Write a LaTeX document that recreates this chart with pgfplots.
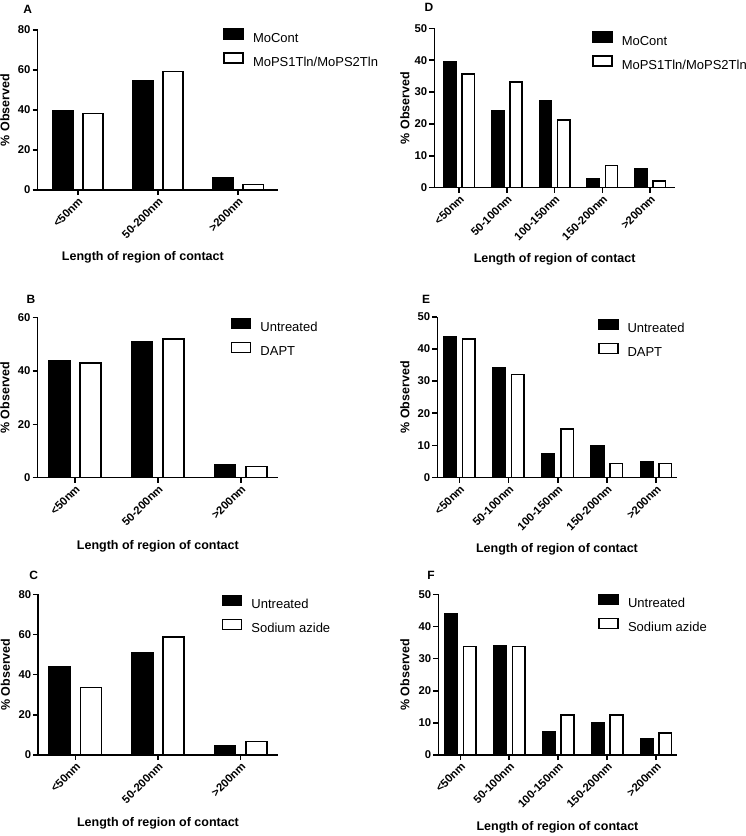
\documentclass[border=0pt]{standalone}
\usepackage{fontspec}
\setmainfont{Liberation Sans}
\usepackage{pgfplots}
\pgfplotsset{compat=1.18}

\tikzset{
  dark/.style={fill=black, draw=black, line width=1.6pt},
  light/.style={fill=white, draw=black, line width=1.6pt},
}
\pgfplotsset{
  panel/.style={
    scale only axis, anchor=south west, ybar,
    axis x line=bottom, axis y line=left,
    axis line style={line width=1.6pt, -},
    major tick style={black, line width=1.6pt},
    tick align=outside, major tick length=5pt,
    ymin=0,
    /pgf/number format/assume math mode=true,
    tick label style={font=\bfseries\fontsize{11.3}{13}\selectfont},
    x tick label style={rotate=45, anchor=north east, inner sep=1pt},
    y tick label style={inner sep=2pt},
    xlabel={Length of region of contact}, ylabel={\% Observed},
    label style={font=\bfseries\fontsize{12.5}{14}\selectfont},
    xlabel style={at={(axis description cs:0.5,0)}, anchor=center},
    ylabel style={at={(axis description cs:0,0.5)}, anchor=center},
    bar width=0.255,
    legend image code/.code={\draw[##1, line width=1.6pt] (0pt,-0.3pt) rectangle (19pt,9.7pt);},
    legend cell align=left,
    legend style={draw=none, fill=none, inner sep=0pt, anchor=north west,
      font=\fontsize{13}{15}\selectfont, row sep=7pt, column sep=9pt,
      nodes={inner sep=0pt, text height=10pt, text depth=3pt}},
  },
  three/.style={panel, xmin=-0.45, xmax=2.45, xtick={0,1,2},
    xticklabels={<50nm, 50-200nm, >200nm}},
  five/.style={panel, xmin=-0.45, xmax=4.42, xtick={0,1,2,3,4},
    xticklabels={<50nm, 50-100nm, 100-150nm, 150-200nm, >200nm}},
}

\begin{document}
\begin{tikzpicture}
\useasboundingbox (0pt,0pt) rectangle (745pt,836pt);

% A
\begin{axis}[three, at={(37.7pt,646pt)}, width=240.3pt, height=160pt,
  xmin=-0.5, xmax=2.5, ymax=80, ytick={0,20,40,60,80},
  xlabel style={xshift=-15pt, yshift=-67pt}, ylabel style={yshift=32.7pt},
  legend style={at={(0.772,1.011)}}]
\addplot[dark, bar shift=-0.19] coordinates {(0,39.5) (1,54.5) (2,6.1)};
\addplot[light, bar shift=0.19] coordinates {(0,38.3) (1,59.2) (2,2.8)};
\legend{MoCont, MoPS1Tln/MoPS2Tln}
\end{axis}

% B
\begin{axis}[three, at={(37.7pt,358.3pt)}, width=240.3pt, height=160pt,
  ymax=60, ytick={0,20,40,60},
  xlabel style={yshift=-68.3pt}, ylabel style={yshift=32.7pt},
  legend style={at={(0.803,1.0)}}]
\addplot[dark, bar shift=-0.19] coordinates {(0,43.8) (1,51.0) (2,4.8)};
\addplot[light, bar shift=0.19] coordinates {(0,42.9) (1,52.0) (2,4.2)};
\legend{Untreated, DAPT}
\end{axis}

% C
\begin{axis}[three, at={(38.3pt,81pt)}, width=239.4pt, height=160.7pt,
  ymax=80, ytick={0,20,40,60,80},
  xlabel style={yshift=-68pt}, ylabel style={yshift=33pt},
  legend style={at={(0.766,1.0)}}]
\addplot[dark, bar shift=-0.19] coordinates {(0,43.8) (1,51.0) (2,4.8)};
\addplot[light, bar shift=0.19] coordinates {(0,33.7) (1,58.6) (2,6.7)};
\legend{Untreated, Sodium azide}
\end{axis}

% D
\begin{axis}[five, at={(434.3pt,648.3pt)}, width=240.7pt, height=159.4pt,
  xmin=-0.52, xmax=4.52, ymax=50, ytick={0,10,...,50},
  xlabel style={yshift=-72pt}, ylabel style={yshift=29.3pt},
  legend style={at={(0.655,0.983)}}]
\addplot[dark, bar shift=-0.19] coordinates {(0,39.5) (1,24.1) (2,27.3) (3,2.9) (4,6.0)};
\addplot[light, bar shift=0.19] coordinates {(0,35.6) (1,33.2) (2,21.2) (3,6.9) (4,2.1)};
\legend{MoCont, MoPS1Tln/MoPS2Tln}
\end{axis}

% E
\begin{axis}[five, at={(437.3pt,358.3pt)}, width=239.4pt, height=161pt,
  ymax=50, ytick={0,10,...,50},
  xlabel style={yshift=-72pt}, ylabel style={yshift=32.3pt},
  legend style={at={(0.67,0.99)}}]
\addplot[dark, bar shift=-0.19] coordinates {(0,43.9) (1,34.0) (2,7.3) (3,9.9) (4,4.8)};
\addplot[light, bar shift=0.19] coordinates {(0,43.0) (1,32.1) (2,15.2) (3,4.4) (4,4.4)};
\legend{Untreated, DAPT}
\end{axis}

% F
\begin{axis}[five, at={(438.3pt,81pt)}, width=238.4pt, height=160.7pt,
  ymax=50, ytick={0,10,...,50},
  xlabel style={yshift=-72pt}, ylabel style={yshift=33.3pt},
  legend style={at={(0.671,1.006)}}]
\addplot[dark, bar shift=-0.19] coordinates {(0,43.8) (1,33.9) (2,7.3) (3,9.9) (4,4.9)};
\addplot[light, bar shift=0.19] coordinates {(0,33.7) (1,33.7) (2,12.4) (3,12.4) (4,6.9)};
\legend{Untreated, Sodium azide}
\end{axis}

\begin{scope}[every node/.style={font=\bfseries\fontsize{12}{14}\selectfont, inner sep=0pt}]
\node at (27.7pt,826.8pt) {A};
\node at (31pt,536.5pt) {B};
\node at (33.7pt,261pt) {C};
\node at (429pt,828.5pt) {D};
\node at (426pt,536.5pt) {E};
\node at (431pt,261pt) {F};
\end{scope}
\end{tikzpicture}
\end{document}
